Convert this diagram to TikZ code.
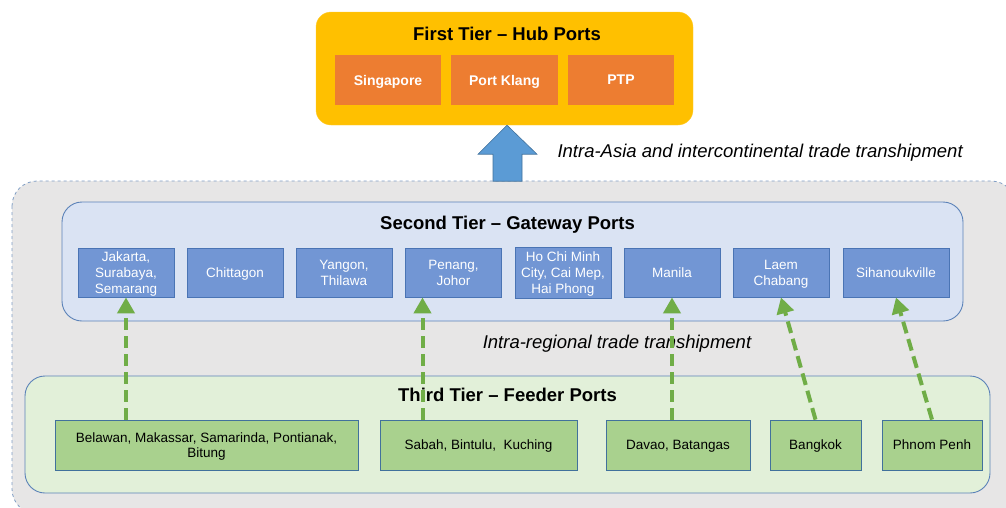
\documentclass[tikz,border=0pt]{standalone}
\usepackage{fontspec}
\setmainfont{Liberation Sans}
\usetikzlibrary{arrows.meta,calc}

\definecolor{hubyellow}{HTML}{FFC000}
\definecolor{huborange}{HTML}{ED7D31}
\definecolor{hubarrow}{HTML}{5B9BD5}
\definecolor{arrowline}{HTML}{41719C}
\definecolor{regionfill}{HTML}{E7E6E6}
\definecolor{regionline}{HTML}{7F9DC4}
\definecolor{gatefill}{HTML}{DAE3F3}
\definecolor{gateport}{HTML}{7296D4}
\definecolor{gateline}{HTML}{4A74B4}
\definecolor{tierline}{HTML}{5B82B8}
\definecolor{feedfill}{HTML}{E2F0D9}
\definecolor{feedport}{HTML}{A9D18E}
\definecolor{feedgreen}{HTML}{70AD47}

\begin{document}
\begin{tikzpicture}[x=1pt,y=-1pt,
    tierbox/.style={draw=tierline, line width=0.9pt, rounded corners=20pt, inner sep=0pt},
    hubport/.style={fill=huborange, minimum width=106pt, minimum height=50pt, inner sep=0pt,
        text depth=0pt, text=white, font=\fontsize{14}{16}\selectfont\bfseries},
    gateportbox/.style={fill=gateport, draw=gateline, line width=0.8pt, minimum width=96pt,
        minimum height=49pt, inner sep=0pt, text depth=0pt, text=white, align=center,
        font=\fontsize{13.5}{15.7}\selectfont},
    feedportbox/.style={fill=feedport, draw=arrowline, line width=0.8pt, minimum height=50pt,
        inner sep=0pt, text depth=0pt, align=center, font=\fontsize{13.5}{15.7}\selectfont},
    tiertitle/.style={font=\fontsize{18.5}{22}\selectfont\bfseries},
    flowlabel/.style={font=\fontsize{18.5}{22}\selectfont\itshape},
    feedarrow/.style={draw=feedgreen, line width=4pt, dash pattern=on 12pt off 6pt,
        -{Triangle[width=17pt,length=16pt]}}
]

    % Define parameters
    \def\gatey{272.5}
    \def\feedy{445}

    \clip (0,0) rectangle (1006,507);

    % Regional container
    \draw[regionline, fill=regionfill, dashed, line width=0.8pt, rounded corners=25pt]
        (12,181) rectangle (1016,514);

    % First tier
    \node[fill=hubyellow, draw=hubyellow!80!white, rounded corners=15pt,
        minimum width=377pt, minimum height=113pt] (hub) at (504.5,68.5) {};
    \node[tiertitle] (hubtitle) at (507,34) {First Tier -- Hub Ports};
    \node[hubport] (singapore) at (388,80) {Singapore};
    \node[hubport, minimum width=107pt] (portklang) at (504.5,80) {Port Klang};
    \node[hubport] (ptp) at (621,80) {PTP};

    % Second tier
    \node[tierbox, fill=gatefill, minimum width=901pt, minimum height=119pt] (gate) at (512.5,261.5) {};
    \node[tiertitle] (gatetitle) at (507.5,225) {Second Tier -- Gateway Ports};
    \node[gateportbox] (jakarta) at (126,\gatey) {Jakarta,\\Surabaya,\\Semarang};
    \node[gateportbox] (chittagon) at (235,\gatey) {Chittagon};
    \node[gateportbox] (yangon) at (344,\gatey) {Yangon,\\Thilawa};
    \node[gateportbox] (penang) at (453.5,\gatey) {Penang,\\Johor};
    \node[gateportbox, minimum height=51pt] (hochiminh) at (563,\gatey) {Ho Chi Minh\\City, Cai Mep,\\Hai Phong};
    \node[gateportbox] (manila) at (672,\gatey) {Manila};
    \node[gateportbox] (laem) at (781,\gatey) {Laem\\Chabang};
    \node[gateportbox, minimum width=106pt] (sihanouk) at (896,\gatey) {Sihanoukville};

    % Third tier
    \node[tierbox, fill=feedfill, minimum width=965pt, minimum height=117pt] (feed) at (507.5,434.5) {};
    \node[tiertitle] (feedtitle) at (507.5,395) {Third Tier -- Feeder Ports};
    \node[feedportbox, minimum width=303pt] (belawan) at (206.5,\feedy) {Belawan, Makassar, Samarinda, Pontianak,\\Bitung};
    \node[feedportbox, minimum width=197pt] (sabah) at (478.5,\feedy) {Sabah, Bintulu,\ \ Kuching};
    \node[feedportbox, minimum width=144pt] (davao) at (678,\feedy) {Davao, Batangas};
    \node[feedportbox, minimum width=91pt] (bangkok) at (815.5,\feedy) {Bangkok};
    \node[feedportbox, minimum width=100pt] (phnompenh) at (932,\feedy) {Phnom Penh};

    % Flow labels
    \node[flowlabel, anchor=west] (asialabel) at (554,153) {Intra-Asia and intercontinental trade transhipment};
    \node[flowlabel] (regionlabel) at (617,344) {Intra-regional trade transhipment};

    % Hub arrow
    \draw[fill=hubarrow, draw=arrowline, line width=0.6pt]
        (hubtitle |- hub.south) -- ++(30,29) -- ++(-15,0) -- ++(0,27) -- ++(-29,0)
        -- ++(0,-27) -- ++(-15,0) -- cycle;

    % Feeder arrows
    \coordinate (penangin) at ([xshift=-31pt]penang.south);
    \draw[feedarrow] (jakarta.south |- belawan.north) -- (jakarta.south);
    \draw[feedarrow] (penangin |- sabah.north) -- (penangin);
    \draw[feedarrow] (manila.south |- davao.north) -- (manila.south);
    \draw[feedarrow] (bangkok.north) -- (laem.south);
    \draw[feedarrow] (phnompenh.north) -- (sihanouk.south);
\end{tikzpicture}
\end{document}
